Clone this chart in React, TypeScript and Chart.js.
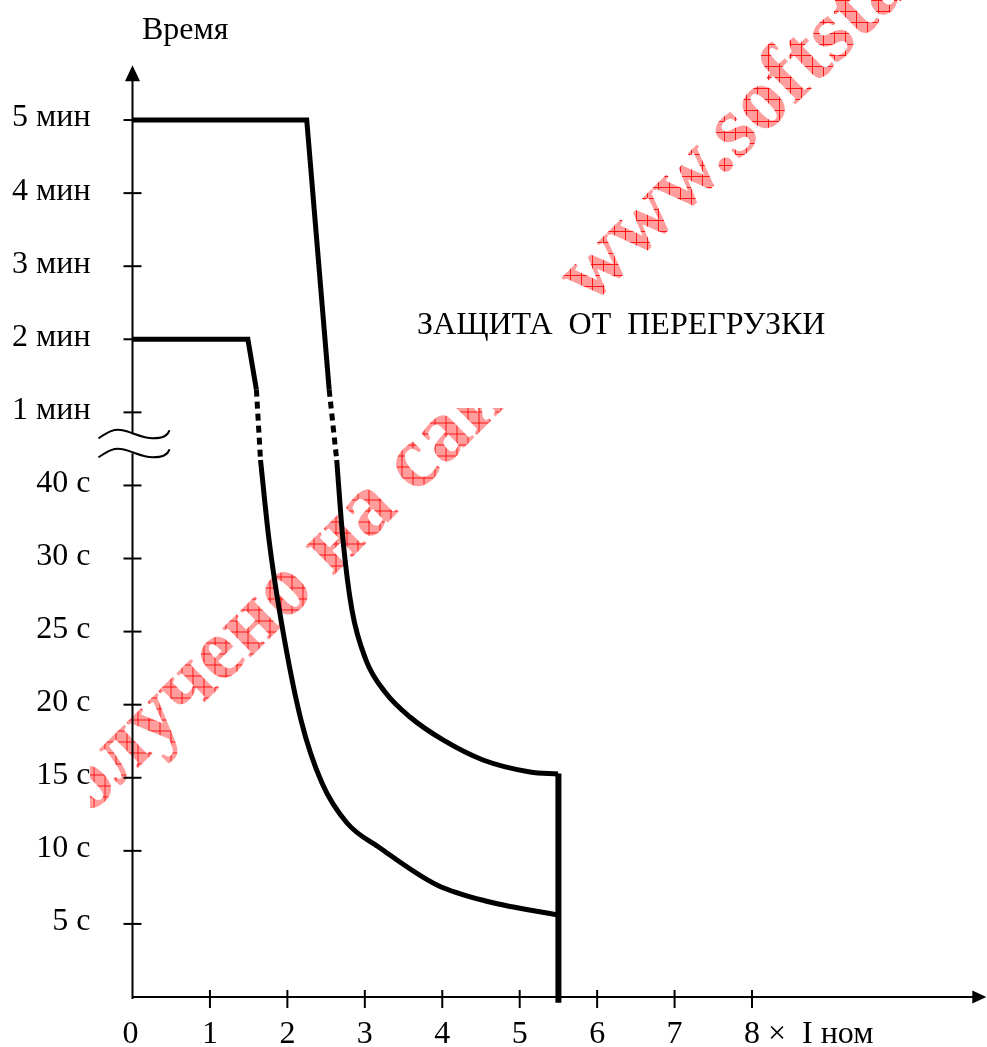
import React, { useEffect, useRef } from 'react';
import { Chart, registerables } from 'chart.js';

Chart.register(...registerables);

const W = 987;
const H = 1047;

// ---- data ----
const xTickValues = [0, 1, 2, 3, 4, 5, 6, 7, 8];
const xTickLabels = ['0', '1', '2', '3', '4', '5', '6', '7', '8'];
const xUnitLabel = ' ×  I ном';
const yTickValues = [1, 2, 3, 4, 5, 6, 7, 8, 9, 10, 11, 12];
const yTickLabels = ['5 с', '10 с', '15 с', '20 с', '25 с', '30 с', '40 с', '1 мин', '2 мин', '3 мин', '4 мин', '5 мин'];
const yAxisTitle = 'Время';
const annotationText = 'ЗАЩИТА  ОТ  ПЕРЕГРУЗКИ';
const watermarkA = 'Получено на сайте';
const watermarkB = 'www.softstar.ru';

const X_MAX = 11;
const Y_MAX = 12.75;
const BREAK_LOW = 7.44;
const BREAK_HIGH = 7.7;

const upperStepX = [0, 2.25, 2.54];
const upperStepY = [12, 12, 8.31];
const upperDashX = [2.54, 2.637];
const upperDashY = [8.31, 7.348];
const upperTailX = [2.637, 2.718, 2.834, 3.015, 3.261, 3.583, 4.01, 4.526, 5.133, 5.495];
const upperTailY = [7.348, 6.253, 5.296, 4.611, 4.173, 3.831, 3.517, 3.243, 3.079, 3.051];

const lowerStepX = [0, 1.49, 1.6];
const lowerStepY = [9, 9, 8.31];
const lowerDashX = [1.6, 1.653];
const lowerDashY = [8.31, 7.348];
const lowerTailX = [1.653, 1.763, 1.918, 2.176, 2.447, 2.77, 3.196, 3.932, 4.616, 5.495];
const lowerTailY = [7.348, 6.253, 5.158, 3.79, 2.928, 2.381, 2.039, 1.533, 1.3, 1.122];

const cutoffX = [5.5, 5.5];
const cutoffY = [3.06, -0.08];

// ---- styling ----
const FONT = '"Liberation Serif", "Times New Roman", serif';
const FS = 32;
const WM_SIZE = 88;
const WM_SPACING = 0;
const WM_ANGLE = (-44.5 * Math.PI) / 180;

const pts = (xs: number[], ys: number[]) => xs.map((x, i) => ({ x, y: ys[i] }));

function makePattern(ctx: CanvasRenderingContext2D, angDeg: number) {
  const c = document.createElement('canvas');
  c.width = 11;
  c.height = 11;
  const g = c.getContext('2d')!;
  g.fillStyle = 'rgba(255,110,110,0.68)';
  g.fillRect(0, 0, 11, 11);
  g.fillStyle = 'rgba(255,0,0,0.85)';
  g.fillRect(0, 5, 11, 1);
  g.fillRect(5, 0, 1, 11);
  const p = ctx.createPattern(c, 'repeat')!;
  try {
    p.setTransform(new DOMMatrix().rotate(-angDeg));
  } catch (e) {}
  return p;
}

function drawFrag(ctx: CanvasRenderingContext2D, text: string, idx: number, ax: number, ay: number, ang: number) {
  ctx.save();
  ctx.font = `bold ${WM_SIZE}px ${FONT}`;
  (ctx as any).letterSpacing = WM_SPACING + 'px';
  const pre = ctx.measureText(text.slice(0, idx)).width;
  const cw = ctx.measureText(text[idx]).width;
  ctx.translate(ax, ay);
  ctx.rotate(ang);
  ctx.fillStyle = makePattern(ctx, (ang * 180) / Math.PI);
  ctx.textAlign = 'left';
  ctx.textBaseline = 'alphabetic';
  ctx.fillText(text, -(pre + cw / 2), WM_SIZE * 0.23);
  ctx.restore();
}

const watermarkPlugin = {
  id: 'watermark',
  beforeDatasetsDraw(chart: any) {
    const ctx: CanvasRenderingContext2D = chart.ctx;
    ctx.save();
    ctx.beginPath();
    ctx.rect(90, 0, W - 90, H);
    ctx.rect(400, 296, 450, 112);
    ctx.clip('evenodd');
    drawFrag(ctx, watermarkA, 7, 286.5, 593.5, WM_ANGLE);
    drawFrag(ctx, watermarkB, 0, 598, 270, WM_ANGLE);
    ctx.restore();
  },
};

function squiggle(ctx: CanvasRenderingContext2D, x: number, y: number) {
  ctx.beginPath();
  ctx.moveTo(x - 34, y + 4);
  ctx.bezierCurveTo(x - 26, y - 1, x - 20, y - 6, x - 10, y - 4);
  ctx.bezierCurveTo(x, y - 2, x + 10, y + 4, x + 20, y + 4);
  ctx.bezierCurveTo(x + 30, y + 4, x + 35, y + 2, x + 37, y - 4);
  ctx.stroke();
}

const axesPlugin = {
  id: 'axesDraw',
  afterDatasetsDraw(chart: any) {
    const ctx: CanvasRenderingContext2D = chart.ctx;
    const xs = chart.scales.x;
    const ys = chart.scales.y;
    const x0 = xs.getPixelForValue(0);
    const y0 = ys.getPixelForValue(0);
    const yTop = ys.getPixelForValue(Y_MAX);
    const xEnd = xs.getPixelForValue(X_MAX) + 2;
    ctx.save();
    ctx.strokeStyle = '#000';
    ctx.fillStyle = '#000';
    ctx.lineWidth = 2;
    ctx.lineCap = 'butt';

    // y axis with break
    const bLow = ys.getPixelForValue(BREAK_LOW);
    const bHigh = ys.getPixelForValue(BREAK_HIGH);
    ctx.beginPath();
    ctx.moveTo(x0, y0 + 2);
    ctx.lineTo(x0, bLow);
    ctx.moveTo(x0, bHigh);
    ctx.lineTo(x0, yTop + 14);
    ctx.stroke();
    squiggle(ctx, x0, bHigh);
    squiggle(ctx, x0, bLow);
    // y arrow
    ctx.beginPath();
    ctx.moveTo(x0, yTop);
    ctx.lineTo(x0 - 7.5, yTop + 16);
    ctx.lineTo(x0 + 7.5, yTop + 16);
    ctx.closePath();
    ctx.fill();

    // x axis
    ctx.beginPath();
    ctx.moveTo(x0, y0);
    ctx.lineTo(xEnd - 12, y0);
    ctx.stroke();
    ctx.beginPath();
    ctx.moveTo(xEnd, y0);
    ctx.lineTo(xEnd - 14, y0 - 6.5);
    ctx.lineTo(xEnd - 14, y0 + 6.5);
    ctx.closePath();
    ctx.fill();

    // y ticks + labels
    ctx.font = `${FS}px ${FONT}`;
    ctx.textAlign = 'right';
    ctx.textBaseline = 'middle';
    yTickValues.forEach((v, i) => {
      const py = ys.getPixelForValue(v);
      ctx.beginPath();
      ctx.moveTo(x0 - 9, py);
      ctx.lineTo(x0 + 9, py);
      ctx.stroke();
      ctx.fillText(yTickLabels[i], x0 - 42, py - 2);
    });

    // x ticks + labels
    ctx.textBaseline = 'alphabetic';
    xTickValues.forEach((v, i) => {
      const px = xs.getPixelForValue(v);
      if (v !== 0) {
        ctx.beginPath();
        ctx.moveTo(px, y0 - 7);
        ctx.lineTo(px, y0 + 11);
        ctx.stroke();
      }
      const lbl = xTickLabels[i];
      const w = ctx.measureText(lbl).width;
      ctx.textAlign = 'left';
      ctx.fillText(lbl, px - w / 2 - (v === 0 ? 2 : 0), y0 + 46);
      if (i === xTickValues.length - 1) {
        ctx.fillText(xUnitLabel, px + w / 2, y0 + 46);
      }
    });

    // titles
    ctx.textAlign = 'left';
    ctx.fillText(yAxisTitle, 142, 39);
    ctx.fillText(annotationText, 417, 334);
    ctx.restore();
  },
};

export default function App() {
  const ref = useRef<HTMLCanvasElement>(null);
  useEffect(() => {
    if (!ref.current) return;
    const base = {
      showLine: true,
      borderColor: '#000',
      backgroundColor: '#000',
      borderWidth: 5,
      pointRadius: 0,
      pointHoverRadius: 0,
      fill: false,
      tension: 0,
      clip: false as any,
      borderCapStyle: 'butt' as const,
      borderJoinStyle: 'miter' as const,
    };
    const chart = new Chart(ref.current, {
      type: 'scatter',
      data: {
        datasets: [
          { ...base, label: 'upper-step', data: pts(upperStepX, upperStepY) },
          { ...base, label: 'upper-dash', data: pts(upperDashX, upperDashY), borderDash: [7, 5] },
          { ...base, label: 'upper-tail', data: pts(upperTailX, upperTailY), cubicInterpolationMode: 'monotone' },
          { ...base, label: 'lower-step', data: pts(lowerStepX, lowerStepY) },
          { ...base, label: 'lower-dash', data: pts(lowerDashX, lowerDashY), borderDash: [7, 5] },
          { ...base, label: 'lower-tail', data: pts(lowerTailX, lowerTailY), cubicInterpolationMode: 'monotone' },
          { ...base, label: 'cutoff', data: pts(cutoffX, cutoffY), borderWidth: 6 },
        ] as any,
      },
      options: {
        responsive: false,
        animation: false,
        devicePixelRatio: 1,
        layout: {
          padding: {
            left: 132.5,
            right: W - 132.5 - 77.44 * X_MAX,
            top: 997 - 73.08 * Y_MAX,
            bottom: H - 997,
          },
        },
        scales: {
          x: { type: 'linear', min: 0, max: X_MAX, display: false },
          y: { type: 'linear', min: 0, max: Y_MAX, display: false },
        },
        plugins: {
          legend: { display: false },
          tooltip: { enabled: false },
        },
        events: [],
      },
      plugins: [watermarkPlugin, axesPlugin],
    });
    return () => chart.destroy();
  }, []);
  return (
    <div style={{ position: 'absolute', left: 0, top: 0, width: W, height: H, background: '#fff' }}>
      <canvas ref={ref} width={W} height={H} style={{ display: 'block' }} />
    </div>
  );
}
